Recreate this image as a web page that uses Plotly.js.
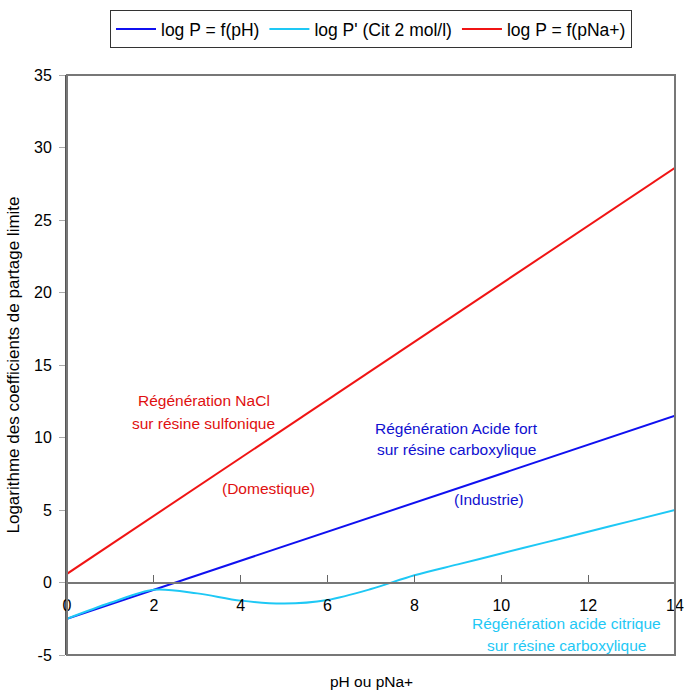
<!DOCTYPE html>
<html><head><meta charset="utf-8">
<script src="https://cdn.plot.ly/plotly-3.0.1.min.js"></script>
<style>body{margin:0;background:#fff}#c{width:685px;height:691px}</style>
</head><body><div id="c"></div>
<script>
const xVals = [0,1,2,3,4,5,6,7,8,9,10,11,12,13,14];
const logP_pH = [-2.5,-1.5,-0.5,0.5,1.5,2.5,3.5,4.5,5.5,6.5,7.5,8.5,9.5,10.5,11.5];
const logP_cit = [-2.5,-1.4,-0.5,-0.75,-1.25,-1.45,-1.2,-0.45,0.5,1.25,2.0,2.75,3.5,4.25,5.0];
const logP_pNa = [0.6,2.6,4.6,6.6,8.6,10.6,12.6,14.6,16.6,18.6,20.6,22.6,24.6,26.6,28.6];
const xTicks = [0,2,4,6,8,10,12,14];
const yTicks = [-5,0,5,10,15,20,25,30,35];

const FAM = '"Liberation Sans", Arial, sans-serif';
const font = {family:FAM, size:16, color:'#000'};
const traces = [
 {x:xVals,y:logP_pH,name:'log P = f(pH)',mode:'lines',line:{color:'#1010f0',width:2}},
 {x:xVals,y:logP_cit,name:"log P' (Cit 2 mol/l)",mode:'lines',line:{color:'#1ec8f5',width:2,shape:'spline',smoothing:0.9}},
 {x:xVals,y:logP_pNa,name:'log P = f(pNa+)',mode:'lines',line:{color:'#f01414',width:2}}
];
const ann = (x,y,t,c)=>({x:x,y:y,xref:'x',yref:'y',text:t,showarrow:false,font:{family:FAM,size:15.5,color:c},xanchor:'center',yanchor:'middle'});
const layout = {
 width:685,height:691,margin:{l:67,r:10,t:73,b:36},
 paper_bgcolor:'#fff',plot_bgcolor:'#fff',font:font,
 showlegend:true,
 legend:{orientation:'h',x:0.5,xanchor:'center',y:1.112,yanchor:'top',bordercolor:'#333',borderwidth:1,font:{family:FAM,size:17.5},itemwidth:40,tracegroupgap:0},
 xaxis:{range:[0,14],tickvals:xTicks,ticktext:xTicks.map(String),showgrid:false,zeroline:false,
   anchor:'free',position:0.125,ticks:'inside',ticklen:7,tickcolor:'#666',showline:true,linecolor:'#777',linewidth:2,
   ticklabelstandoff:8,
   tickfont:{family:FAM,size:16},fixedrange:true},
 yaxis:{range:[-5,35],tickvals:yTicks,ticktext:yTicks.map(String),showgrid:false,zeroline:false,
   ticks:'outside',ticklen:6,tickcolor:'#aaa',showline:true,linecolor:'#555',linewidth:2,
   ticklabelstandoff:4,
   tickfont:{family:FAM,size:16},
   title:{text:'Logarithme des coefficients de partage limite',font:{family:FAM,size:17},standoff:10}},
 shapes:[
  {type:'rect',xref:'paper',yref:'paper',x0:0,x1:1,y0:0,y1:1,line:{color:'#777',width:2}}
 ],
 annotations:[
  ann(3.15,12.58,'Régénération NaCl','#e01010'),
  ann(3.15,11.0,'sur résine sulfonique','#e01010'),
  ann(4.63,6.46,'(Domestique)','#e01010'),
  ann(8.96,10.65,'Régénération Acide fort','#1010d0'),
  ann(8.96,9.14,'sur résine carboxylique','#1010d0'),
  ann(9.72,5.7,'(Industrie)','#1010d0'),
  ann(11.51,-2.82,'Régénération acide citrique','#1ec8f5'),
  ann(11.51,-4.33,'sur résine carboxylique','#1ec8f5'),
  {x:0.5,y:-0.063,xref:'paper',yref:'paper',text:'pH ou pNa+',showarrow:false,font:{family:FAM,size:15.5,color:'#000'},xanchor:'center',yanchor:'bottom'}
 ]
};
Plotly.newPlot('c',traces,layout,{displayModeBar:false,staticPlot:true});
</script></body></html>
